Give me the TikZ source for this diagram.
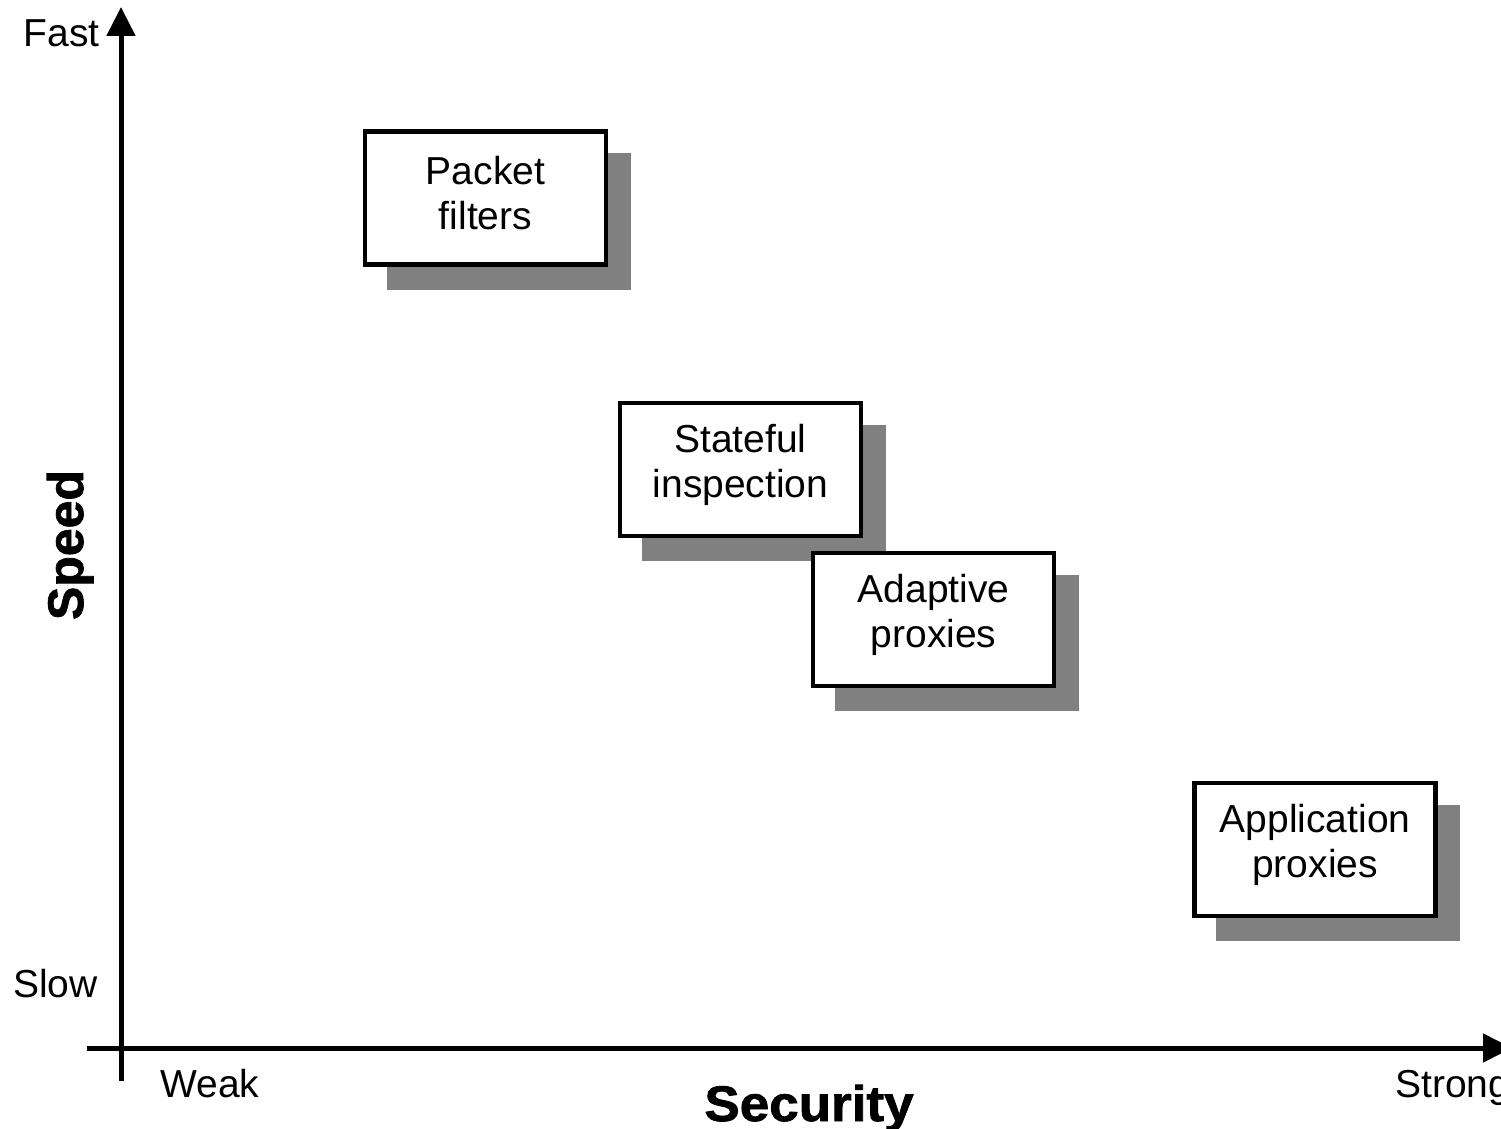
\documentclass[tikz,border=0pt]{standalone}
\usepackage{fontspec}
\setmainfont{Liberation Sans}
\newfontfamily\heavyfont[FakeBold=1.5]{Liberation Sans Bold}
\usetikzlibrary{arrows.meta}
\begin{document}
\begin{tikzpicture}[x=1pt,y=-1pt,
  axis/.style={line width=5pt,-{Triangle[length=29pt,width=28pt]}},
  fw/.style={draw=black,line width=4.5pt,fill=white,minimum width=241pt,minimum height=133pt,inner sep=0pt},
  fwtext/.style={inner sep=0pt,align=center,font=\fontsize{39}{45}\selectfont},
  shadowbox/.style={fill=black!50,draw=none},
  lbl/.style={inner sep=0pt,font=\fontsize{39}{45}\selectfont},
  title/.style={inner sep=0pt,font=\heavyfont\fontsize{50}{60}\selectfont}]
\clip (0,0) rectangle (1501,1129);
\useasboundingbox (0,0) rectangle (1501,1129);
\fill[white] (0,0) rectangle (1501,1129);
% axes
\coordinate (ybot) at (121,1081);
\coordinate (ytop) at (121,7);
\coordinate (xleft) at (87,1048);
\coordinate (xright) at (1512,1048);
\draw[axis] (ybot) -- (ytop);
\draw[axis] (xleft) -- (xright);
% shadows
\fill[shadowbox] (387,153) rectangle (631,290);
\fill[shadowbox] (642,425) rectangle (886,561);
\fill[shadowbox] (835,575) rectangle (1079,711);
\fill[shadowbox] (1216,805) rectangle (1460,941);
% boxes
\node[fw] (pf) at (485.5,198) {};
\node[fw] (si) at (740.5,469.5) {};
\node[fw] (ap) at (933.5,619.5) {};
\node[fw] (app) at (1315,849.5) {};
\node[fwtext] (pft) at ([yshift=5pt]pf.center) {Packet\\filters};
\node[fwtext] (sit) at ([yshift=5pt]si.center) {Stateful\\inspection};
\node[fwtext] (apt) at ([yshift=5pt]ap.center) {Adaptive\\proxies};
\node[fwtext] (appt) at ([yshift=5pt]app.center) {Application\\proxies};
% labels
\node[lbl,anchor=base east] (fast) at (100,47) {Fast};
\node[lbl,anchor=base west] (slow) at (13,997) {Slow};
\node[lbl,anchor=base west] (weak) at (160,1097) {Weak};
\node[lbl,anchor=base west] (strong) at (1395,1097) {Strong};
\node[title,rotate=90,anchor=base] (speed) at (83,545) {Speed};
\node[title,anchor=base,xscale=1.06] (security) at (809,1121) {Security};
\end{tikzpicture}
\end{document}
